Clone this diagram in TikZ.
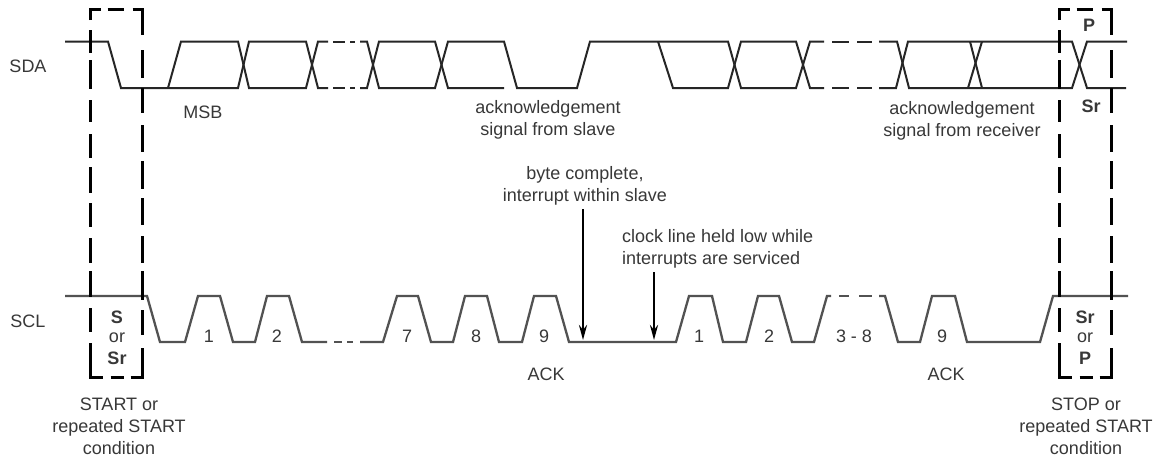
\documentclass[tikz,border=0pt]{standalone}
\usepackage{fontspec}
\setmainfont{Liberation Sans}
\usetikzlibrary{arrows.meta}
\tikzset{
  x=1pt,y=-1pt,
  sda/.style={draw=black!85,line width=2pt,line join=miter},
  scl/.style={draw=black!68,line width=2.3pt,line join=miter},
  bx/.style={draw=black,line width=3pt,line cap=butt},
  lab/.style={inner sep=0pt,outer sep=0pt,align=center,text=black!78,font=\fontsize{18}{22}\selectfont},
  blab/.style={lab,font=\fontsize{18}{22}\selectfont\bfseries},
  arr/.style={draw=black,line width=2.8pt,-{Stealth[length=15pt,width=8pt]}}
}
\begin{document}
\begin{tikzpicture}
\useasboundingbox (0,0) rectangle (1164,459);
\fill[white] (0,0) rectangle (1164,459);
% SDA
\draw[sda] (65,41.5) -- (108,41.5) -- (121,88) -- (238,88) -- (249,41.5) -- (306,41.5) -- (318,88) -- (328,88);
\draw[sda] (168,88) -- (181,41.5) -- (238,41.5) -- (249,88) -- (306,88) -- (318,41.5) -- (328,41.5);
\foreach \y in {41.5,88} {
  \draw[sda] (333,\y) -- (345,\y);
  \draw[sda] (350,\y) -- (355,\y);
  \draw[sda] (832,\y) -- (849,\y);
  \draw[sda] (857,\y) -- (872,\y);
}
\draw[sda] (360,41.5) -- (367,41.5) -- (379,88) -- (435,88) -- (448,41.5) -- (504,41.5) -- (517,88) -- (577,88) -- (590,41.5) -- (728,41.5) -- (741,88) -- (796,88) -- (810,41.5) -- (824,41.5);
\draw[sda] (360,88) -- (367,88) -- (379,41.5) -- (435,41.5) -- (448,88) -- (504,88);
\draw[sda] (658,41.5) -- (673,88) -- (728,88) -- (741,41.5) -- (796,41.5) -- (810,88) -- (824,88);
\draw[sda] (879,41.5) -- (897,41.5) -- (909,88) -- (1072,88) -- (1087,41.5) -- (1127,41.5);
\draw[sda] (879,88) -- (896,88) -- (908,41.5) -- (1072,41.5) -- (1087,88) -- (1126,88);
\draw[sda] (968,88) -- (982,41.5);
\draw[sda] (970,41.5) -- (982,88);
% SCL
\draw[scl] (65,296) -- (147,296) -- (160,342) -- (185,342) -- (198,296) -- (220,296) -- (233,342) -- (255,342) -- (267,296) -- (289,296) -- (302,342) -- (327,342);
\draw[scl] (334,342) -- (342,342);
\draw[scl] (347,342) -- (353,342);
\draw[scl] (360,342) -- (383,342) -- (397,296) -- (418,296) -- (431,342) -- (453,342) -- (465,296) -- (487,296) -- (499,342) -- (522,342) -- (534,296) -- (556,296) -- (569,342) -- (676,342) -- (689,296) -- (712,296) -- (723,342) -- (746,342) -- (758,296) -- (779,296) -- (792,342) -- (814,342) -- (827,296) -- (831,296);
\draw[scl] (839,296) -- (849,296);
\draw[scl] (859,296) -- (872,296);
\draw[scl] (879,296) -- (885,296) -- (898,342) -- (920,342) -- (932,296) -- (955,296) -- (967,342) -- (1040,342) -- (1053,296) -- (1128,296);
% dashed boxes
\foreach \xl/\xr in {90.5/142.7,1059.7/1111.7} {
  \draw[bx] (\xl,20) -- (\xl,9) -- ({\xl+10},9);
  \draw[bx] ({\xl+17},9) -- ({\xl+33},9);
  \draw[bx] ({\xl+42},9) -- (\xr,9) -- (\xr,35);
  \draw[bx] (\xl,343) -- (\xl,377) -- ({\xl+12},377);
  \draw[bx] ({\xl+20},377) -- ({\xl+33},377);
  \draw[bx] ({\xl+40},377) -- (\xr,377) -- (\xr,348);
  \foreach \a/\b in {30/53,60/89,100/122,134/158,167/193,203/227,238/263,271/297,308/332} {
    \draw[bx] (\xl,\a) -- (\xl,\b);
  }
  \foreach \a/\b in {50/78,88/113,125/152,161/189,198/225,236/263,271/300,310/335} {
    \draw[bx] (\xr,\a) -- (\xr,\b);
  }
}
% labels
\node[lab] (sda) at (28,66) {SDA};
\node[lab] (scl) at (28,321) {SCL};
\node[lab] (msb) at (203,112) {MSB};
\node[lab] (ackslave) at (548,120) {acknowledgement\\signal from slave};
\node[lab] (ackrecv) at (962,121) {acknowledgement\\signal from receiver};
\node[blab] (p) at (1089,25) {P};
\node[blab] (sr) at (1091,106) {Sr};
\node[lab] (byte) at (585,186) {byte complete,\\interrupt within slave};
\node[lab,align=left,anchor=west] (clock) at (622,248.5) {clock line held low while\\interrupts are serviced};
\node[blab] (sl) at (117,317) {S};
\node[lab] (orl) at (117,338) {or};
\node[blab] (srl) at (117,358) {Sr};
\node[blab] (srr) at (1085,317) {Sr};
\node[lab] (orr) at (1085,338) {or};
\node[blab] (pr) at (1085,358) {P};
\node[lab] (n1) at (209,336) {1};
\node[lab] (n2) at (277,336) {2};
\node[lab] (n7) at (407,336) {7};
\node[lab] (n8) at (476,336) {8};
\node[lab] (n9) at (544,336) {9};
\node[lab] (m1) at (699,336) {1};
\node[lab] (m2) at (769,336) {2};
\node[lab] (m38) at (854,336) {3 - 8};
\node[lab] (m9) at (942,336) {9};
\node[lab] (ack1) at (546,374) {ACK};
\node[lab] (ack2) at (946,374) {ACK};
\node[lab] (start) at (119,426) {START or\\repeated START\\condition};
\node[lab] (stop) at (1086,426) {STOP or\\repeated START\\condition};
% arrows
\coordinate (a1s) at (583,209);
\coordinate (a1e) at (583,340);
\coordinate (a2s) at (654,272);
\coordinate (a2e) at (654,340);
\draw[arr] (a1s) -- (a1e);
\draw[arr] (a2s) -- (a2e);
\end{tikzpicture}
\end{document}
